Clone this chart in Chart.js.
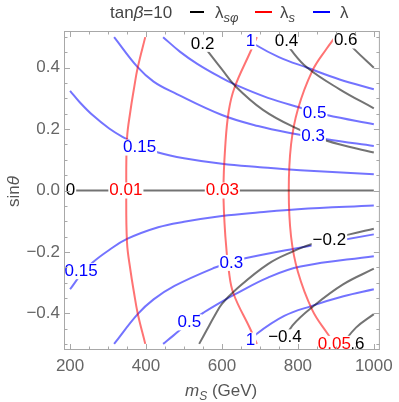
<!DOCTYPE html>
<html>
<head>
<meta charset="utf-8">
<script src="https://cdn.jsdelivr.net/npm/chart.js@4"></script>
<style>
html, body { margin: 0; padding: 0; background: #fff; }
</style>
</head>
<body>
<canvas id="myChart" width="399" height="402"></canvas>
<script>
var xTicks = [200, 400, 600, 800, 1000];
var yTicks = [-0.4, -0.2, 0, 0.2, 0.4];

// lambda_s-phi contours (gray)
var g0M = [200, 1000], g0S = [0, 0];
var g02M = [535, 565, 600, 634, 708, 794, 876, 1000];
var g02S = [0.5, 0.45, 0.395, 0.342, 0.263, 0.204, 0.162, 0.124];
var g04M = [760, 781, 825, 910, 1000];
var g04S = [0.5, 0.46, 0.4, 0.33, 0.268];
var g06M = [920, 949, 1000];
var g06S = [0.5, 0.46, 0.4];
var gm02M = [540, 560, 580, 600, 635, 721, 790, 833, 936, 1000];
var gm02S = [-0.5, -0.455, -0.41, -0.37, -0.325, -0.24, -0.197, -0.176, -0.143, -0.125];
var gm04M = [758, 786, 842, 919, 1000];
var gm04S = [-0.5, -0.44, -0.376, -0.306, -0.255];
var gm06M = [918, 953, 1000];
var gm06S = [-0.5, -0.447, -0.403];

// lambda_s contours (red)
var r01M = [398, 378, 368, 359, 350, 348, 350, 359, 368, 378, 398];
var r01S = [0.5, 0.4, 0.33, 0.26, 0.17, 0, -0.17, -0.26, -0.33, -0.4, -0.5];
var r03M = [692, 674, 633, 618, 609, 604, 609, 618, 630, 674, 692];
var r03S = [0.5, 0.45, 0.335, 0.26, 0.15, 0, -0.15, -0.26, -0.335, -0.45, -0.5];
var r05M = [898, 876, 838, 800, 782, 776, 782, 800, 838, 876, 898];
var r05S = [0.5, 0.463, 0.39, 0.265, 0.15, 0, -0.15, -0.265, -0.39, -0.463, -0.5];

// lambda contours (blue)
var b015M = [200, 226, 260, 303, 338, 383, 432, 500, 600, 700, 806, 1000];
var b015S = [0.325, 0.287, 0.245, 0.202, 0.175, 0.147, 0.124, 0.105, 0.087, 0.076, 0.066, 0.053];
var bm015M = [200, 230, 260, 303, 350, 432, 500, 600, 700, 800, 1000];
var bm015S = [-0.322, -0.272, -0.234, -0.194, -0.158, -0.12, -0.102, -0.083, -0.071, -0.061, -0.049];
var b03M = [316, 378, 420, 475, 600, 695, 790, 876, 1000];
var b03S = [0.5, 0.402, 0.355, 0.318, 0.246, 0.21, 0.185, 0.167, 0.145];
var bm03M = [316, 378, 420, 475, 580, 625, 658, 790, 1000];
var bm03S = [-0.5, -0.403, -0.355, -0.311, -0.252, -0.234, -0.222, -0.19, -0.143];
var b05M = [445, 490, 535, 592, 635, 721, 807, 876, 1000];
var b05S = [0.5, 0.452, 0.413, 0.372, 0.345, 0.302, 0.27, 0.246, 0.216];
var bm05M = [445, 471, 514, 553, 600, 635, 721, 807, 1000];
var bm05S = [-0.5, -0.474, -0.43, -0.397, -0.362, -0.338, -0.284, -0.248, -0.214];
var b1M = [662, 687, 750, 825, 910, 1000];
var b1S = [0.5, 0.476, 0.435, 0.4, 0.362, 0.33];
var bm1M = [668, 691, 764, 837, 920, 1000];
var bm1S = [-0.5, -0.468, -0.409, -0.376, -0.345, -0.322];

// contour labels
var labText = ["0", "0.01", "0.03", "0.15", "0.15", "0.2", "1", "0.4", "0.6", "0.5", "0.3", "0.3", "\u22120.2", "0.5", "1", "\u22120.4", "\u22120.6", "0.05"];
var labKind = ["g", "r", "r", "b", "b", "g", "b", "g", "g", "b", "b", "b", "g", "b", "b", "g", "g", "r"];
var labM = [201, 347, 601, 383, 229, 549, 675, 770, 926, 844, 840, 625, 883, 514, 675, 766, 931, 896];
var labS = [0, 0, 0, 0.14, -0.263, 0.478, 0.486, 0.487, 0.489, 0.252, 0.176, -0.236, -0.163, -0.43, -0.489, -0.479, -0.5, -0.5];

var lineCol = { g: "rgba(0,0,0,0.55)", r: "rgba(255,0,0,0.55)", b: "rgba(0,0,255,0.55)" };
var textCol = { g: "#000", r: "#f00", b: "#00f" };
var FONT = '"Liberation Sans", Arial, sans-serif';

var ds = [];
function addLine(m, s, kind) {
  ds.push({
    data: m.map(function (v, i) { return { x: v, y: s[i] }; }),
    showLine: true, borderColor: lineCol[kind], borderWidth: 2,
    pointRadius: 0, tension: 0.4, fill: false
  });
}
addLine(g0M, g0S, "g"); addLine(g02M, g02S, "g"); addLine(g04M, g04S, "g"); addLine(g06M, g06S, "g");
addLine(gm02M, gm02S, "g"); addLine(gm04M, gm04S, "g"); addLine(gm06M, gm06S, "g");
addLine(r01M, r01S, "r"); addLine(r03M, r03S, "r"); addLine(r05M, r05S, "r");
addLine(b015M, b015S, "b"); addLine(bm015M, bm015S, "b"); addLine(b03M, b03S, "b"); addLine(bm03M, bm03S, "b");
addLine(b05M, b05S, "b"); addLine(bm05M, bm05S, "b"); addLine(b1M, b1S, "b"); addLine(bm1M, bm1S, "b");

// draws text runs (text, italic, size, dy) one after another
function runs(ctx, parts, x, y) {
  parts.forEach(function (p) {
    ctx.font = (p[1] ? "italic " : "") + p[2] + "px " + FONT;
    ctx.fillText(p[0], x, y + p[3]);
    x += ctx.measureText(p[0]).width;
  });
  return x;
}

var contourLabels = {
  id: "contourLabels",
  afterDatasetsDraw: function (chart) {
    var ctx = chart.ctx, xs = chart.scales.x, ys = chart.scales.y;
    ctx.save();
    ctx.font = "17px " + FONT;
    ctx.textAlign = "center";
    ctx.textBaseline = "middle";
    for (var i = 0; i < labText.length; i++) {
      var px = xs.getPixelForValue(labM[i]), py = ys.getPixelForValue(labS[i]);
      var w = ctx.measureText(labText[i]).width;
      ctx.fillStyle = "#fff";
      ctx.fillRect(px - w / 2 - 1, py - 8, w + 2, 16);
      ctx.fillStyle = textCol[labKind[i]];
      ctx.fillText(labText[i], px, py);
    }
    ctx.restore();
  }
};

var frame = {
  id: "frame",
  afterDraw: function (chart) {
    var ctx = chart.ctx, a = chart.chartArea, xs = chart.scales.x, ys = chart.scales.y;
    ctx.save();
    ctx.strokeStyle = "#a8a8a8";
    ctx.lineWidth = 1;
    ctx.strokeRect(a.left + 0.5, a.top + 0.5, a.right - a.left - 1, a.bottom - a.top - 1);
    ctx.beginPath();
    for (var v = 200; v <= 1000; v += 50) {
      var px = Math.round(xs.getPixelForValue(v)) + 0.5, len = v % 200 === 0 ? 6 : 3.5;
      ctx.moveTo(px, a.bottom); ctx.lineTo(px, a.bottom - len);
      ctx.moveTo(px, a.top); ctx.lineTo(px, a.top + len);
    }
    for (var k = -10; k <= 10; k++) {
      var py = Math.round(ys.getPixelForValue(k * 0.05)) + 0.5, l2 = k % 4 === 0 ? 6 : 3.5;
      ctx.moveTo(a.left, py); ctx.lineTo(a.left + l2, py);
      ctx.moveTo(a.right, py); ctx.lineTo(a.right - l2, py);
    }
    ctx.stroke();

    // header: title and legend
    ctx.fillStyle = "#444";
    ctx.textAlign = "left";
    ctx.textBaseline = "alphabetic";
    runs(ctx, [["tan", 0, 17, 0], ["\u03b2", 1, 17, 0], ["=10", 0, 17, 0]], 110, 18);
    ctx.lineWidth = 2;
    var keys = [["#000", 190, 204, 215, "s\u03c6"], ["#f00", 255, 272, 280, "s"], ["#00f", 313, 330, 340, ""]];
    keys.forEach(function (k) {
      ctx.strokeStyle = k[0];
      ctx.beginPath(); ctx.moveTo(k[1], 12); ctx.lineTo(k[2], 12); ctx.stroke();
      ctx.fillStyle = "#444";
      runs(ctx, [["\u03bb", 0, 17, 0], [k[4], 1, 13, 4]], k[3], 18);
    });

    // axis titles
    ctx.fillStyle = "#555";
    runs(ctx, [["m", 1, 17, 0], ["S", 1, 12, 4], [" (GeV)", 0, 17, 0]], 185, 396);
    ctx.translate(19, 207);
    ctx.rotate(-Math.PI / 2);
    runs(ctx, [["sin", 0, 17, 0], ["\u03b8", 1, 17, 0]], 0, 0);
    ctx.restore();
  }
};

new Chart("myChart", {
  type: "scatter",
  data: { datasets: ds },
  options: {
    responsive: false,
    animation: false,
    layout: { padding: { top: 31, right: 14, left: 0, bottom: 0 } },
    plugins: { legend: { display: false }, tooltip: { enabled: false } },
    scales: {
      x: {
        type: "linear", min: 184, max: 1016,
        afterBuildTicks: function (a) { a.ticks = xTicks.map(function (v) { return { value: v }; }); },
        afterFit: function (a) { a.height = 52; },
        grid: { display: false, drawTicks: false },
        border: { display: false },
        ticks: {
          color: "#666", font: { size: 17, family: FONT }, padding: 6, maxRotation: 0, autoSkip: false,
          callback: function (v) { return String(v); }
        }
      },
      y: {
        type: "linear", min: -0.52, max: 0.52,
        afterBuildTicks: function (a) { a.ticks = yTicks.map(function (v) { return { value: v }; }); },
        afterFit: function (a) { a.width = 64; },
        grid: { display: false, drawTicks: false },
        border: { display: false },
        ticks: {
          color: "#666", font: { size: 17, family: FONT }, padding: 4,
          callback: function (v) { return (v < 0 ? "\u2212" : "") + Math.abs(v).toFixed(1); }
        }
      }
    }
  },
  plugins: [contourLabels, frame]
});
</script>
</body>
</html>
